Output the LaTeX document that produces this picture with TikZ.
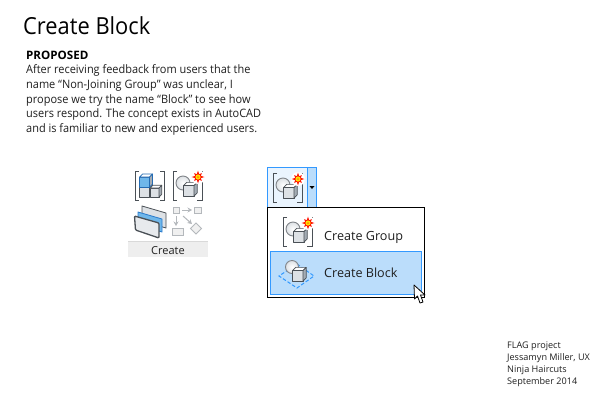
\documentclass[tikz,border=0pt]{standalone}
\usepackage{fontspec}
\usetikzlibrary{arrows.meta,calc}
\setmainfont{Open Sans}
\newfontfamily\bodyf[FakeStretch=0.945]{Open Sans}
\newfontfamily\titlef[FakeStretch=0.93]{Open Sans}
\definecolor{hl}{HTML}{BBDDFB}
\definecolor{hlb}{HTML}{3399FF}
\definecolor{hll}{HTML}{EAF4FE}
\definecolor{cubef}{HTML}{DDE1E5}
\definecolor{cubes}{HTML}{A4ACB4}
\definecolor{cubed}{HTML}{4A5056}
\definecolor{faint}{HTML}{B4B8BC}
\definecolor{faintf}{HTML}{F0F0F0}
\definecolor{blueface}{HTML}{6FB7EA}
\definecolor{band}{HTML}{EEEEEE}
\tikzset{
 txt/.style={inner sep=0pt,anchor=base west,text=black!88},
 brk/.style={draw=cubed,line width=0.9pt},
 fnt/.style={draw=faint,fill=faintf,line width=0.8pt},
 arr/.style={draw=faint,line width=1pt,-{Stealth[length=4.5pt,width=5pt]}},
 ball/.style={draw=cubed!70!white,line width=0.9pt,inner color=white,outer color=cubef},
}
% cube: lower-left front at (#1,#2), size #3, front colour #4, outline #5
\newcommand{\mycube}[5]{%
 \pgfmathsetmacro{\dd}{#3*0.3}%
 \draw[#5,line width=0.7pt,line join=round,fill=#4] (#1,#2) rectangle ++(#3,-#3);
 \draw[#5,line width=0.7pt,line join=round,fill=white] (#1,#2-#3) -- ++(\dd,-\dd) -- ++(#3,0) -- ++(-\dd,\dd) -- cycle;
 \draw[#5,line width=0.7pt,line join=round,fill=cubes] (#1+#3,#2) -- ++(\dd,-\dd) -- ++(0,-#3) -- ++(-\dd,\dd) -- cycle;
}
\newcommand{\mystar}[2]{%
 \fill[white] (#1,#2) circle (7);
 \fill[red!85!orange] (#1,#2) ++(0:6.5) -- ($(#1,#2)+(22:3)$)
   -- ($(#1,#2)+(45:5.5)$) -- ($(#1,#2)+(67:3)$)
   -- ($(#1,#2)+(90:6.5)$) -- ($(#1,#2)+(112:3)$)
   -- ($(#1,#2)+(135:5.5)$) -- ($(#1,#2)+(157:3)$)
   -- ($(#1,#2)+(180:6.5)$) -- ($(#1,#2)+(202:3)$)
   -- ($(#1,#2)+(225:5.5)$) -- ($(#1,#2)+(247:3)$)
   -- ($(#1,#2)+(270:6.5)$) -- ($(#1,#2)+(292:3)$)
   -- ($(#1,#2)+(315:5.5)$) -- ($(#1,#2)+(337:3)$) -- cycle;
 \fill[yellow!80!orange] (#1,#2) circle (2.6);
 \fill[orange] (#1,#2) circle (1);
}
\newcommand{\mygroup}[2]{% icon with brackets: origin top-left of left bracket
 \begin{scope}[shift={(#1,#2)}]
  \draw[brk] (4,0) -- (0,0) -- (0,29) -- (4,29);
  \draw[brk] (24,0) -- (29,0) -- (29,29) -- (24,29);
  \draw[ball] (10,12) circle (7);
  \mycube{10.5}{25}{10.5}{cubef}{cubed}
  \mystar{25}{6}
 \end{scope}}
\begin{document}
\begin{tikzpicture}[x=1pt,y=-1pt]
\useasboundingbox (0,0) rectangle (600,400);
\fill[white] (0,0) rectangle (600,400);
\node[txt,text=black,font=\fontsize{23.5}{28}\titlef] (title) at (23,34) {Create Block};
\node[txt,text=black,font=\fontsize{11.6}{14}\selectfont\bfseries] (prop) at (26,59) {PROPOSED};
\node[txt,font=\fontsize{11.6}{14}\bodyf] (l1) at (26,73) {After receiving feedback from users that the};
\node[txt,font=\fontsize{11.6}{14}\bodyf] (l2) at (26,88) {name “Non-Joining Group” was unclear, I};
\node[txt,font=\fontsize{11.6}{14}\bodyf] (l3) at (26,103) {propose we try the name “Block” to see how};
\node[txt,font=\fontsize{11.6}{14}\bodyf] (l4) at (26,117) {users respond. The concept exists in AutoCAD};
\node[txt,font=\fontsize{11.6}{14}\bodyf] (l5) at (26,132) {and is familiar to new and experienced users.};
% left panel
\draw[brk] (139,171) -- (135,171) -- (135,200) -- (139,200);
\draw[brk] (160,171) -- (164,171) -- (164,200) -- (160,200);
\mycube{139.5}{197}{10}{cubef}{cubed}
\mycube{150}{197}{9}{cubef}{cubed}
\mycube{139.5}{187}{10}{blueface}{hlb!70!black}
\mygroup{173}{171}
% stacked sheets
\begin{scope}[line width=0.8pt,line join=round]
 \draw[cubed,fill=cubef] (142,206) -- (166,213) -- (166,228) -- (142,221) -- cycle;
 \draw[hlb!80!black,fill=blueface] (138,212) -- (162,219) -- (162,232) -- (138,225) -- cycle;
 \draw[cubed,line width=1.3pt,fill=cubef!70!white,rounded corners=1pt] (134.5,216) -- (159,223) -- (159,238) -- (135.5,230) -- cycle;
\end{scope}
% faint icons
\draw[fnt] (173,207) rectangle (179.5,213);
\draw[fnt] (194,207) rectangle (201.5,213);
\draw[arr] (182,210) -- (192,210);
\draw[arr] (176,216) -- (176,226);
\draw[arr] (183,216) -- (192,224);
\draw[fnt] (172.5,228) rectangle (183,235);
\draw[fnt] (196,223) -- (201.5,228.5) -- (196,234) -- (190.5,228.5) -- cycle;
% Create band
\fill[band] (128,241) rectangle (208,257);
\draw[black!15,line width=0.6pt] (128,241) -- (208,241);
\node[txt,font=\fontsize{11}{13}\selectfont,anchor=base] (create) at (168,254) {Create};
% split button
\draw[hlb,fill=hll,line width=1pt] (267.5,167.5) rectangle (307.5,207);
\draw[hlb,fill=hl,line width=1pt] (307.5,167.5) rectangle (316.5,207);
\fill[black] (309.5,186) -- (314.5,186) -- (312,189) -- cycle;
\mygroup{273}{173}
% menu
\draw[black,fill=white,line width=1pt] (267.5,207.5) rectangle (424.5,297);
\mygroup{283}{217}
\node[txt,font=\fontsize{12.6}{15}\selectfont] (cg) at (324,240) {Create Group};
\draw[hlb,fill=hl,line width=1pt] (270.5,251.5) rectangle (421.5,294);
% block icon
\draw[hlb,dash pattern=on 3.5pt off 2pt,line width=1pt] (297,264) -- (314,276) -- (297,288) -- (279,276) -- cycle;
\draw[ball] (292,267) circle (6.5);
\mycube{292.5}{281}{10.5}{cubef}{cubed}
\node[txt,font=\fontsize{12.6}{15}\selectfont] (cb) at (324,277) {Create Block};
% cursor
\draw[black,fill=white,line width=0.8pt,line join=round] (414,285) -- (414.5,299) -- (417.5,296) -- (420,303) -- (423,302) -- (420.5,295) -- (425,295) -- cycle;
% footer
\node[txt,font=\fontsize{9.1}{11}\selectfont] (f1) at (507,348) {FLAG project};
\node[txt,font=\fontsize{9.1}{11}\selectfont] (f2) at (507,360) {Jessamyn Miller, UX};
\node[txt,font=\fontsize{9.1}{11}\selectfont] (f3) at (507,372) {Ninja Haircuts};
\node[txt,font=\fontsize{9.1}{11}\selectfont] (f4) at (507,384) {September 2014};
\end{tikzpicture}
\end{document}
